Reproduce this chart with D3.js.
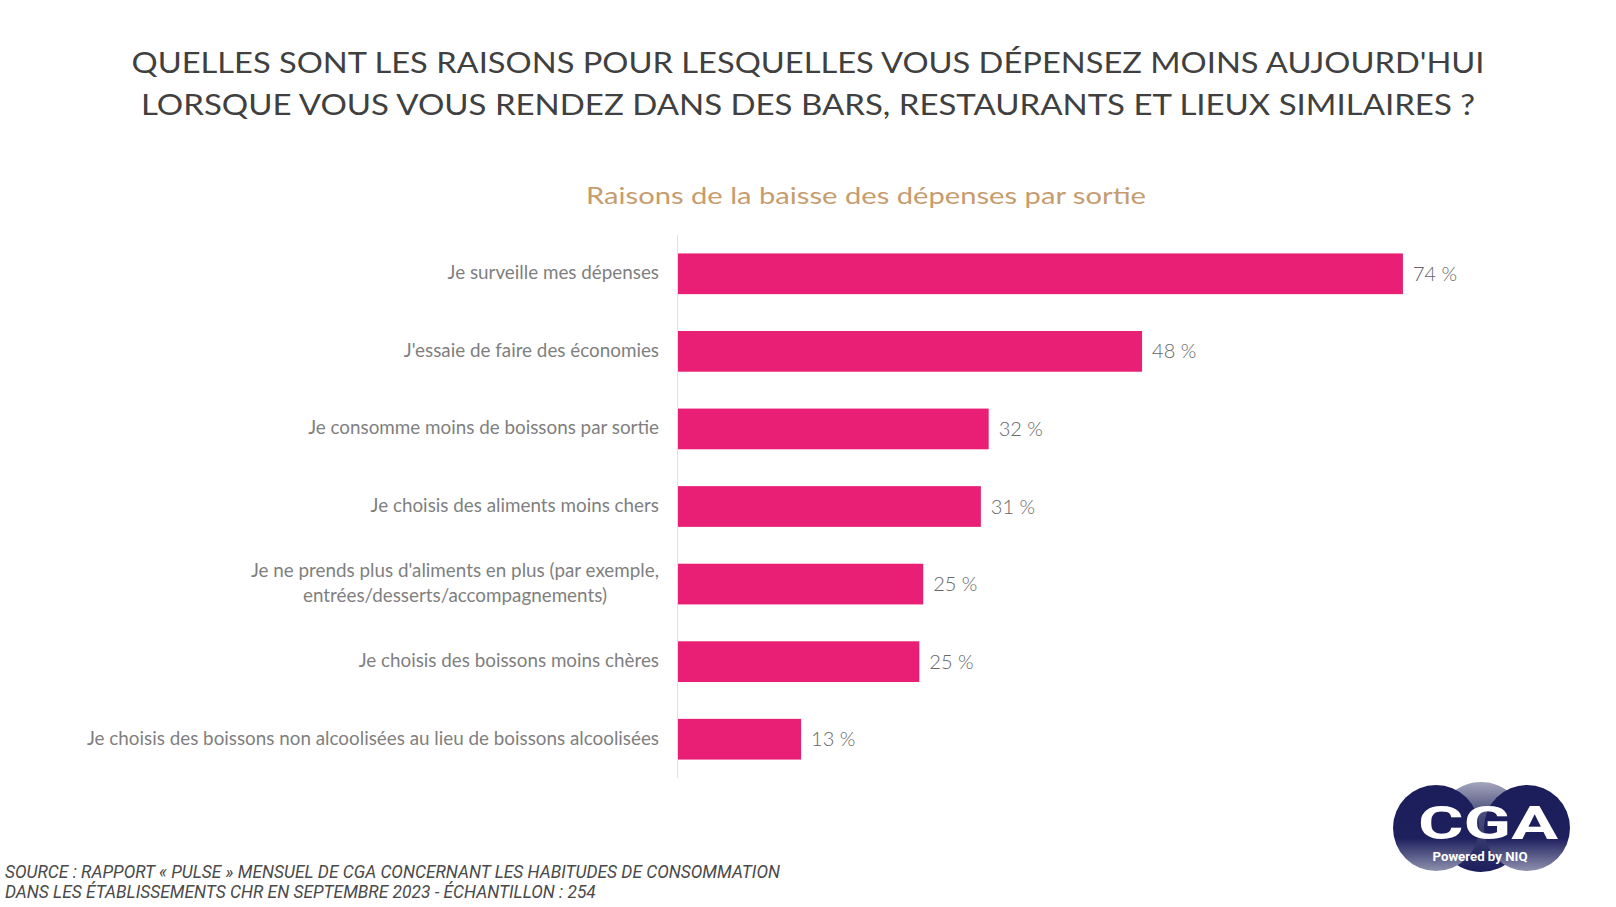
<!DOCTYPE html>
<html><head><meta charset="utf-8">
<script src="https://cdn.jsdelivr.net/npm/d3@7"></script>
<style>html,body{margin:0;padding:0;background:#fff;} svg{display:block;}</style>
</head><body>
<svg id="chart" width="1616" height="907"></svg>
<script>
// ---------- DATA ----------
const titleLines = [
  "QUELLES SONT LES RAISONS POUR LESQUELLES VOUS DÉPENSEZ MOINS AUJOURD'HUI",
  "LORSQUE VOUS VOUS RENDEZ DANS DES BARS, RESTAURANTS ET LIEUX SIMILAIRES ?"
];
const subtitle = "Raisons de la baisse des dépenses par sortie";
const categories = [
  "Je surveille mes dépenses",
  "J'essaie de faire des économies",
  "Je consomme moins de boissons par sortie",
  "Je choisis des aliments moins chers",
  "Je ne prends plus d'aliments en plus (par exemple,\nentrées/desserts/accompagnements)",
  "Je choisis des boissons moins chères",
  "Je choisis des boissons non alcoolisées au lieu de boissons alcoolisées"
];
const values = [74.2, 47.5, 31.8, 31.0, 25.1, 24.7, 12.6];
const valueLabels = ["74 %", "48 %", "32 %", "31 %", "25 %", "25 %", "13 %"];
const sourceLines = [
  "SOURCE : RAPPORT « PULSE » MENSUEL DE CGA CONCERNANT LES HABITUDES DE CONSOMMATION",
  "DANS LES ÉTABLISSEMENTS CHR EN SEPTEMBRE 2023 - ÉCHANTILLON : 254"
];
const logoText = "CGA";
const logoSub = "Powered by NIQ";

// ---------- LAYOUT ----------
const W = 1616, H = 907;
const svg = d3.select("#chart");
const FONT = "Lato, 'Open Sans', sans-serif";

function fit(sel, target) {
  sel.attr("textLength", target).attr("lengthAdjust", "spacingAndGlyphs");
}

// Title
const titleBase = [73, 115];
const titleW = [1353, 1334];
titleLines.forEach((t, i) => {
  const el = svg.append("text")
    .attr("x", 808).attr("y", titleBase[i])
    .attr("text-anchor", "middle")
    .attr("font-family", FONT).attr("font-size", 29)
    .attr("fill", "#404040").text(t);
  fit(el, titleW[i]);
});

// Subtitle
const sub = svg.append("text")
  .attr("x", 866).attr("y", 204).attr("text-anchor", "middle")
  .attr("font-family", FONT).attr("font-size", 22.5)
  .attr("fill", "#c69c6f").text(subtitle);
fit(sub, 560);

// Scales
const x = d3.scaleLinear().domain([0, 80]).range([678, 678 + 9.77 * 80]);
const y = d3.scaleBand().domain(categories).range([235, 778])
  .paddingInner(0.475).paddingOuter(0.2375);

// Axis line (category axis)
svg.append("line")
  .attr("x1", 677.5).attr("x2", 677.5).attr("y1", 235).attr("y2", 778)
  .attr("stroke", "#e2e2e2").attr("stroke-width", 1);

// Bars
svg.append("g").selectAll("rect").data(values).join("rect")
  .attr("x", x(0))
  .attr("y", (d, i) => y(categories[i]))
  .attr("width", d => x(d) - x(0))
  .attr("height", y.bandwidth())
  .attr("fill", "#e91f75");

// Value labels
svg.append("g").selectAll("text").data(values).join("text")
  .attr("x", d => x(d) + 10)
  .attr("y", (d, i) => y(categories[i]) + y.bandwidth() / 2 + 7)
  .attr("font-family", FONT).attr("font-size", 20).attr("font-weight", 300)
  .attr("fill", "#666")
  .text((d, i) => valueLabels[i]);

// Category labels
const labelG = svg.append("g");
const labelSize = 18.5;
const probe = labelG.append("text").attr("font-family", FONT).attr("font-size", labelSize)
  .text(categories[categories.length - 1]);
const k = 572 / probe.node().getComputedTextLength();
probe.remove();
const labelRight = 659;
const labelColor = "#7f7f7f";
categories.forEach((c, i) => {
  const cy = y(c) + y.bandwidth() / 2;
  const lines = c.split("\n");
  if (lines.length === 1) {
    const t = labelG.append("text")
      .attr("x", labelRight).attr("y", cy + 5.5)
      .attr("text-anchor", "end")
      .attr("font-family", FONT).attr("font-size", labelSize)
      .attr("fill", labelColor).text(c);
    fit(t, t.node().getComputedTextLength() * k);
  } else {
    const els = lines.map((l, j) => labelG.append("text")
      .attr("y", cy + 5.5 + (j - (lines.length - 1) / 2) * 25.8)
      .attr("text-anchor", "middle")
      .attr("font-family", FONT).attr("font-size", labelSize)
      .attr("fill", labelColor).text(l));
    const widths = els.map(e => e.node().getComputedTextLength() * k);
    const maxW = d3.max(widths);
    els.forEach((e, j) => { e.attr("x", labelRight - maxW / 2); fit(e, widths[j]); });
  }
});

// Source
const srcEls = sourceLines.map((s, i) => svg.append("text")
  .attr("x", 5).attr("y", 878 + i * 19.5)
  .attr("font-family", "Roboto, sans-serif").attr("font-style", "italic")
  .attr("font-size", 17.5).attr("fill", "#4a4a4a").text(s));
const ks = 775 / srcEls[0].node().getComputedTextLength();
srcEls.forEach(e => fit(e, e.node().getComputedTextLength() * ks));

// Logo
const defs = svg.append("defs");
const gSide = defs.append("linearGradient").attr("id", "gSide").attr("x1", 0).attr("y1", 0).attr("x2", 0).attr("y2", 1);
gSide.append("stop").attr("offset", "0%").attr("stop-color", "#1b1e5b");
gSide.append("stop").attr("offset", "62%").attr("stop-color", "#1d205d");
gSide.append("stop").attr("offset", "100%").attr("stop-color", "#8e90ad");
const gMid = defs.append("linearGradient").attr("id", "gMid").attr("x1", 0).attr("y1", 0).attr("x2", 0).attr("y2", 1);
gMid.append("stop").attr("offset", "0%").attr("stop-color", "#a4a6bd");
gMid.append("stop").attr("offset", "35%").attr("stop-color", "#4a4d7a");
gMid.append("stop").attr("offset", "100%").attr("stop-color", "#1b1e5b");
const logo = svg.append("g");
logo.append("circle").attr("cx", 1481).attr("cy", 827).attr("r", 45).attr("fill", "url(#gMid)");
logo.append("circle").attr("cx", 1436).attr("cy", 828).attr("r", 43).attr("fill", "url(#gSide)");
logo.append("circle").attr("cx", 1527).attr("cy", 828).attr("r", 43).attr("fill", "url(#gSide)");
const lt = logo.append("text").attr("x", 1488).attr("y", 839).attr("text-anchor", "middle")
  .attr("font-family", "Roboto, sans-serif").attr("font-weight", 700).attr("font-size", 46)
  .attr("fill", "#fff").text(logoText);
fit(lt, 140);
const ls = logo.append("text").attr("x", 1480).attr("y", 861).attr("text-anchor", "middle")
  .attr("font-family", "Roboto, sans-serif").attr("font-weight", 700).attr("font-size", 12)
  .attr("fill", "#fff").text(logoSub);
fit(ls, 95);
</script>
</body></html>
